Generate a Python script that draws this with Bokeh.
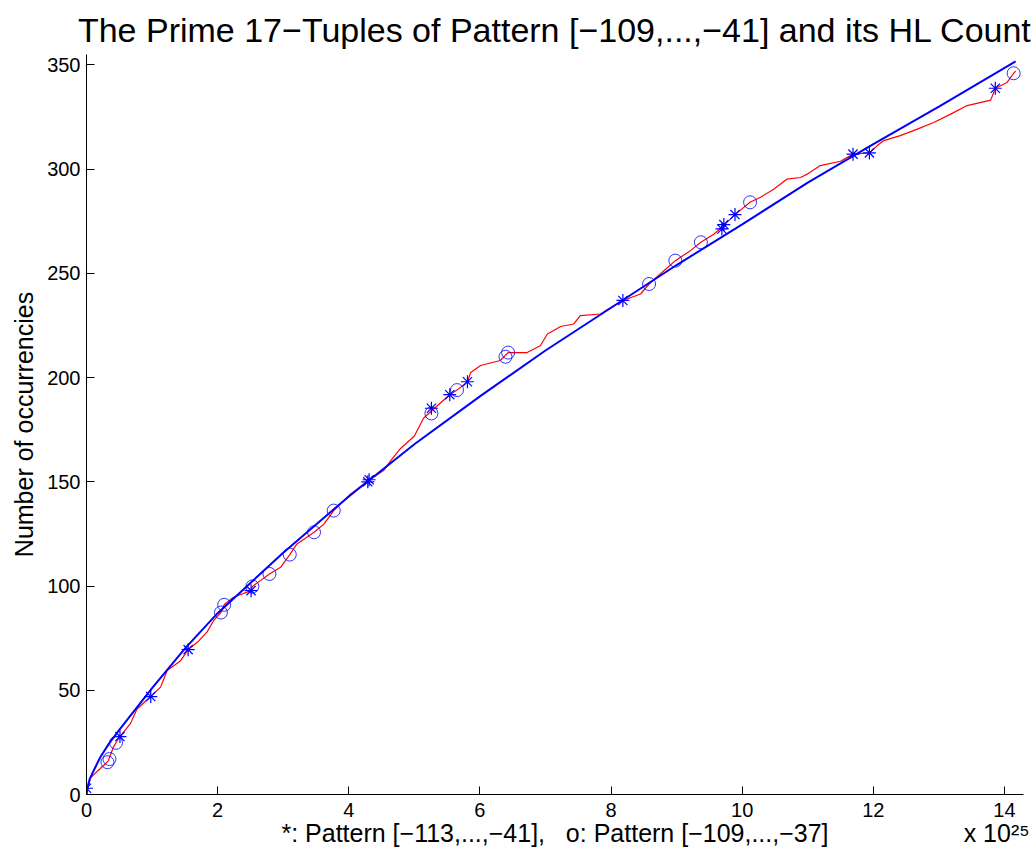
from bokeh.plotting import figure
from bokeh.models import Range1d, FixedTicker, LinearAxis
from bokeh.embed import file_html
from bokeh.resources import INLINE

FONT = "Liberation Sans"

# Red staircase: observed count of 17-tuples (x in units of 1e25)
red_x = [0, 0.02, 0.06, 0.21, 0.33, 0.41, 0.45, 0.51, 0.67, 0.77, 0.98, 1.13, 1.23, 1.43,
         1.55, 1.69, 1.84, 1.94, 2.05, 2.10, 2.24, 2.51, 2.53, 2.65, 2.79, 2.96, 3.10, 3.21,
         3.47, 3.62, 3.77, 4.03, 4.30, 4.53, 4.64, 4.79, 5.00, 5.14, 5.26, 5.54, 5.65, 5.81,
         5.86, 6.01, 6.31, 6.43, 6.72, 6.92, 7.03, 7.23, 7.43, 7.53, 7.84, 7.94, 8.18, 8.45,
         8.58, 8.75, 8.98, 9.21, 9.37, 9.57, 9.70, 9.89, 10.12, 10.28, 10.48, 10.68, 10.89,
         10.99, 11.19, 11.50, 11.69, 11.94, 12.06, 12.16, 12.41, 12.67, 12.92, 13.18, 13.43,
         13.79, 13.86, 14.04, 14.14, 14.17]
red_y = [0, 3, 8, 12.5, 16, 22.7, 24.8, 27.8, 34, 41, 47, 51.5, 59.5, 64,
         69.5, 73, 78, 83.5, 87.3, 91, 94.6, 97.8, 99.8, 102.6, 105.8, 109, 115.1, 120.2,
         125.8, 129.7, 136.2, 144.2, 150.6, 155.4, 160.2, 166, 172, 180.5, 184, 191.8, 194, 198,
         202.5, 205.8, 208.2, 212, 212, 215.3, 220.9, 224.5, 225.7, 229.7, 230.5, 232.6, 237, 240.1,
         244.9, 249.7, 256.1, 260.9, 264.9, 268.9, 272.4, 278.2, 284.1, 286.5, 290.4, 295.2, 296,
         297.6, 301.7, 303.8, 307.2, 307.8, 311.3, 313.7, 316.1, 319.2, 322.4, 326.4, 330.5,
         333.1, 338.8, 341.6, 346, 347]

# Blue curve: Hardy-Littlewood expected count
hl_x = [0, 0.02, 0.05, 0.11, 0.21, 0.34, 0.5, 1, 1.5, 2, 3, 4, 5, 6, 7, 8, 9, 10, 11, 12, 13, 14.17]
hl_y = [0, 4, 7.5, 11.5, 17.9, 24.3, 31, 51, 70, 87, 116, 143, 168, 191, 213, 233.5, 254, 273.5,
        293.5, 312, 330, 351.7]

# '*' markers: pattern [-113,...,-41]
star_x = [0, 0.51, 0.98, 1.55, 2.51, 4.29, 4.31, 5.26, 5.54, 5.81, 8.18, 9.69, 9.72, 9.89,
          11.69, 11.94, 13.86]
star_y = [3, 27.8, 47, 69.5, 97.8, 150, 151, 185.3, 191.8, 198, 237, 271.3, 273.4, 278.2,
          307.2, 307.8, 338.8]

# 'o' markers: pattern [-109,...,-37]
circ_x = [0.32, 0.35, 0.45, 2.05, 2.10, 2.53, 2.79, 3.10, 3.47, 3.77, 5.26, 5.65, 6.39, 6.43,
          8.58, 8.98, 9.37, 10.12, 14.14]
circ_y = [15.5, 17, 24.8, 87.3, 91, 99.8, 105.8, 115.1, 125.8, 136.2, 182.8, 194, 210, 212,
          244.9, 256.1, 264.9, 284.1, 346]

x_ticks = [0, 2, 4, 6, 8, 10, 12, 14]
y_ticks = [0, 50, 100, 150, 200, 250, 300, 350]

title_text = "The Prime 17\u2212Tuples of Pattern [\u2212109,...,\u221241] and its HL Count"
xlabel_text = "*: Pattern [\u2212113,...,\u221241],\u00a0\u00a0 o: Pattern [\u2212109,...,\u221237]"
ylabel_text = "Number of occurrencies"
exp_text = "x 10\u00b2\u2075"

XMAX, YMAX = 14.29, 355

p = figure(width=1036, height=858, output_backend="svg", toolbar_location=None,
           x_range=Range1d(0, XMAX), y_range=Range1d(0, YMAX),
           min_border_left=86, min_border_right=13, min_border_top=54, min_border_bottom=64)
p.title.text = title_text
p.title.text_font = FONT
p.title.text_font_size = "34px"
p.title.text_font_style = "normal"
p.title.text_color = "black"
p.title.align = "center"
p.title.standoff = 12
p.grid.visible = False
p.outline_line_color = None
p.background_fill_color = "white"
p.border_fill_color = "white"

for ax in (p.xaxis[0], p.yaxis[0]):
    ax.major_tick_in = 8
    ax.major_tick_out = 0
    ax.minor_tick_line_color = None
    ax.axis_line_color = "black"
    ax.major_tick_line_color = "black"
    ax.major_label_text_font = FONT
    ax.major_label_text_font_size = "20px"
    ax.major_label_text_color = "black"
p.xaxis[0].major_label_standoff = 8
p.yaxis[0].major_label_standoff = 6
p.xaxis[0].ticker = FixedTicker(ticks=x_ticks)
p.yaxis[0].ticker = FixedTicker(ticks=y_ticks)
p.xaxis[0].major_label_overrides = {t: str(t) for t in x_ticks}

yax = p.yaxis[0]
yax.axis_label = ylabel_text
yax.axis_label_text_font = FONT
yax.axis_label_text_font_size = "25px"
yax.axis_label_text_font_style = "normal"
yax.axis_label_text_color = "black"
yax.axis_label_standoff = 6

# second row below the x axis: x label and the exponent
lab_pos = [XMAX / 2, 13.88]
ax2 = LinearAxis(ticker=FixedTicker(ticks=lab_pos),
                 major_label_overrides={lab_pos[0]: xlabel_text, lab_pos[1]: exp_text},
                 axis_line_color=None, major_tick_line_color=None, minor_tick_line_color=None,
                 major_tick_in=0, major_tick_out=0, major_label_standoff=-1,
                 major_label_text_font=FONT, major_label_text_font_size="25px",
                 major_label_text_color="black")
p.add_layout(ax2, "below")

p.line(red_x, red_y, line_color="#ff0000", line_width=1.2)
p.line(hl_x, hl_y, line_color="#0000ff", line_width=2)
p.scatter(circ_x, circ_y, marker="circle", size=13, fill_color=None,
          line_color="#0000ff", line_width=1, line_alpha=0.8)
p.scatter(star_x, star_y, marker="asterisk", size=13,
          line_color="#0000ff", line_width=1.2)

open("out.html", "w").write(file_html(p, INLINE))
